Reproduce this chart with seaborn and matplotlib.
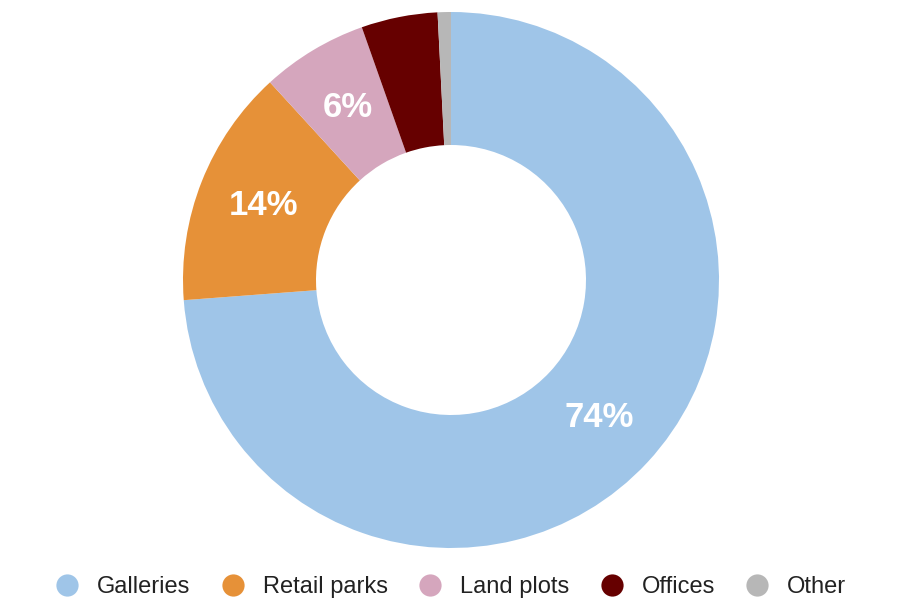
import matplotlib
matplotlib.use("Agg")
import matplotlib.pyplot as plt
from matplotlib.lines import Line2D
import numpy as np
import seaborn as sns

# Portfolio breakdown by asset type (%)
categories = ["Galleries", "Retail parks", "Land plots", "Offices", "Other"]
shares = [73.8, 14.4, 6.4, 4.6, 0.8]
colors = ["#9FC5E8", "#E69138", "#D5A6BD", "#660000", "#B7B7B7"]

sns.set_theme(style="white")
plt.rcParams["font.family"] = ["Liberation Sans", "DejaVu Sans"]

fig = plt.figure(figsize=(8.99, 6.0), dpi=100)
ax = fig.add_axes([0, 0, 1, 1])

# Donut geometry in pixel-scaled data units
R = 268.0
cx, cy = 451.0, 280.0
ring = 1 - 135.0 / R

wedges, _ = ax.pie(
    shares,
    colors=colors,
    startangle=90,
    counterclock=False,
    radius=1.0,
    wedgeprops=dict(width=ring, linewidth=0),
)
ax.set_xlim(-cx / R, (899 - cx) / R)
ax.set_ylim(-(600 - cy) / R, cy / R)
ax.set_aspect("auto")
ax.axis("off")

# Percentage labels on the larger slices
start = 90.0
r_lab = 1 - ring / 2
for w, v in zip(wedges, shares):
    span = v / 100 * 360
    mid = np.deg2rad(start - span / 2)
    start -= span
    if v >= 5:
        ax.text(r_lab * np.cos(mid), r_lab * np.sin(mid), f"{v:.0f}%",
                ha="center", va="center", color="white",
                fontsize=25, fontweight="bold")

handles = [Line2D([0], [0], marker="o", linestyle="", markersize=16,
                  markerfacecolor=c, markeredgewidth=0) for c in colors]
fig.legend(handles, categories, loc="center", bbox_to_anchor=(0.503, 0.021),
           ncol=5, frameon=False, fontsize=17, handlelength=0.8,
           handletextpad=0.87, columnspacing=1.39, borderaxespad=0,
           labelcolor="#222222")

fig.savefig("out.png", dpi=100, facecolor="white")
